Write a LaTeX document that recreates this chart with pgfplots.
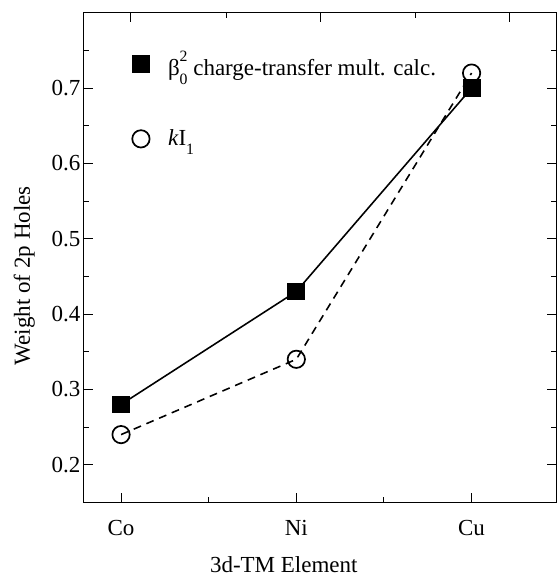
\documentclass[border=0pt]{standalone}
\usepackage{fontspec}
\setmainfont{Liberation Serif}
\usepackage{pgfplots}
\pgfplotsset{compat=1.18}
\newcommand{\lbl}{\fontsize{17.5}{21}\selectfont}
\newcommand{\scr}[1]{{\fontsize{12}{12}\selectfont #1}}
\begin{document}
\begin{tikzpicture}
\begin{axis}[
	name=main,
	scale only axis,
	width=360pt, height=372.75pt,
	xmin=-0.213, xmax=2.485,
	ymin=0.15, ymax=0.8,
	xtick={0,1,2}, xticklabels={Co,Ni,Cu},
	minor xtick={0.5,1.5},
	xtick pos=left,
	ytick={0.2,0.3,...,0.7},
	minor ytick={0.25,0.35,...,0.75},
	ytick pos=both,
	tick align=inside,
	major tick length=7pt, minor tick length=4pt,
	every tick/.style={black, line width=0.8pt},
	axis line style={line width=1pt},
	y tick label style={/pgf/number format/fixed, /pgf/number format/fixed zerofill, /pgf/number format/precision=1},
	/pgf/number format/assume math mode=true,
	tick label style={font=\lbl},
	xticklabel style={yshift=-10pt},
	yticklabel style={xshift=1pt},
	xlabel={3d-TM Element},
	ylabel={Weight of 2p Holes},
	label style={font=\lbl},
	xlabel style={at={(ticklabel cs:0.423)}, yshift=-9pt},
	ylabel style={at={(ticklabel cs:0.463)}, yshift=6pt},
	legend style={draw=none, fill=none, at={(axis cs:0.04,0.757)}, anchor=north west,
		row sep=36pt, column sep=12pt, font=\lbl, cells={anchor=west}},
	legend cell align=left,
	legend image code/.code={\draw[#1,solid] plot coordinates {(0.3cm,0cm)};},
]
\addplot[black, line width=1.2pt, mark=square*, mark size=6.2pt, mark options={solid, fill=black}]
	coordinates {(0,0.28) (1,0.43) (2,0.70)};
\addlegendentry{β\rlap{\raisebox{0.62em}{\scr{2}}}\raisebox{-0.38em}{\scr{0}} charge-transfer mult. calc.}
\addplot[black, line width=1.2pt, dash pattern=on 6pt off 4.5pt, mark=o, mark size=6.6pt, mark options={solid, fill=white, line width=1.3pt}]
	coordinates {(0,0.24) (1,0.34) (2,0.72)};
\addlegendentry{\textit{k}I\raisebox{-0.38em}{\scr{1}}}
\end{axis}
\begin{axis}[
	scale only axis,
	width=360pt, height=372.75pt,
	xmin=-0.213, xmax=2.485,
	ymin=0.15, ymax=0.8,
	axis x line*=top,
	axis y line=none,
	xtick={0.056,1.14,2.219},
	minor xtick={0.601,1.68},
	xticklabels={},
	tick align=inside,
	major tick length=7pt, minor tick length=4pt,
	every tick/.style={black, line width=0.8pt},
	axis line style={line width=1pt},
]
\end{axis}
\path (main.north) ++(0,9.75pt);
\path ([xshift=-63.75pt]main.south west);
\end{tikzpicture}
\end{document}
